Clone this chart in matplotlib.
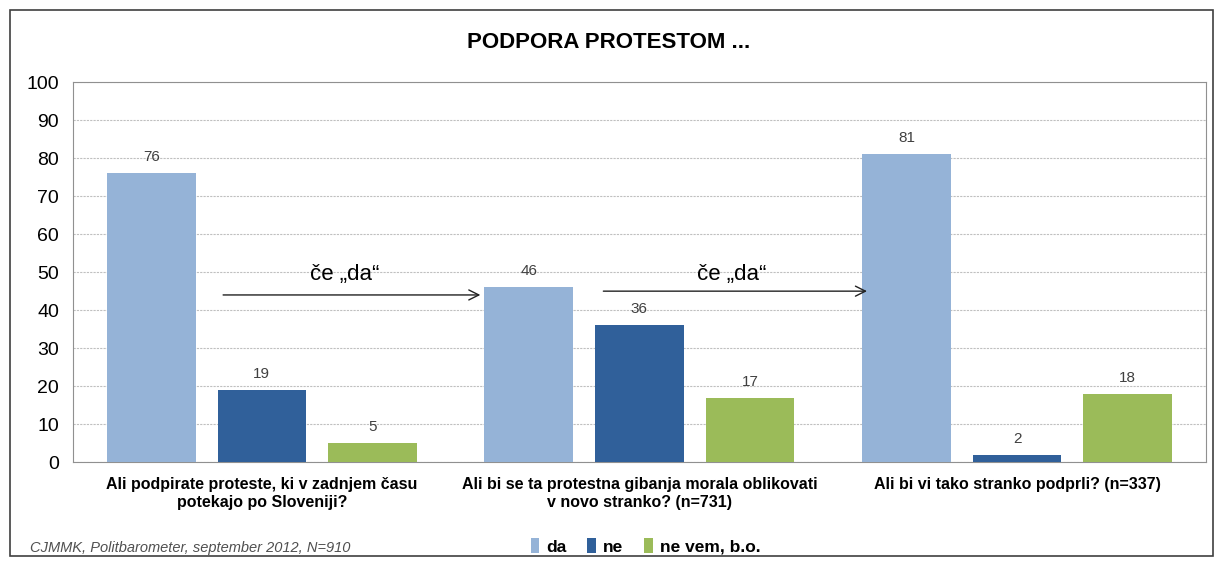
import numpy as np
import matplotlib.pyplot as plt
from matplotlib.patches import Rectangle

plt.rcParams['font.family'] = ['Liberation Sans', 'DejaVu Sans']

# data
questions = ['Ali podpirate proteste, ki v zadnjem času\npotekajo po Sloveniji?',
             'Ali bi se ta protestna gibanja morala oblikovati\nv novo stranko? (n=731)',
             'Ali bi vi tako stranko podprli? (n=337)']
series = ['da', 'ne', 'ne vem, b.o.']
da = [76, 46, 81]
ne = [19, 36, 2]
nevem = [5, 17, 18]
yticks = list(range(0, 101, 10))

colors = ['#95b3d7', '#30609a', '#9bbb59']

fig = plt.figure(figsize=(12.18, 5.67), dpi=100)
fig.patches.append(Rectangle((0.008, 0.02), 0.988, 0.963, transform=fig.transFigure,
                             fill=False, edgecolor='#404040', lw=1.2))
ax = fig.add_axes([0.060, 0.185, 0.930, 0.670])

x = np.arange(len(questions))
w = 0.235
off = 0.293
for i, (vals, c, name) in enumerate(zip([da, ne, nevem], colors, series)):
    xs = x + (i - 1) * off
    ax.bar(xs, vals, width=w, color=c, label=name, zorder=3)
    for xi, v in zip(xs, vals):
        ax.text(xi, v + 4.2, str(v), ha='center', va='center', fontsize=11, color='#404040')

ax.set_xlim(-0.5, 2.5)
ax.set_ylim(0, 100)
ax.set_yticks(yticks)
ax.tick_params(axis='y', labelsize=14, length=0, pad=10)
ax.set_xticks(x)
ax.set_xticklabels(questions, fontsize=11.5, fontweight='bold')
ax.tick_params(axis='x', length=0, pad=11)
ax.yaxis.grid(True, linestyle=(0, (2, 1)), color='#c0c0c0', lw=0.8, zorder=0)
for s in ax.spines.values():
    s.set_color('#909090')

# arrows "če da"
ax.annotate('', xy=(0.586, 44), xytext=(-0.11, 44),
            arrowprops=dict(arrowstyle='->', color='#222222', lw=1, mutation_scale=18))
ax.annotate('', xy=(1.61, 45), xytext=(0.897, 45),
            arrowprops=dict(arrowstyle='->', color='#222222', lw=1, mutation_scale=18))
ax.text(0.22, 49.5, 'če „da“', ha='center', va='center', fontsize=16)
ax.text(1.245, 49.5, 'če „da“', ha='center', va='center', fontsize=16)

fig.text(0.5, 0.925, 'PODPORA PROTESTOM ...', ha='center', va='center',
         fontsize=16, fontweight='bold')
fig.text(0.025, 0.033, 'CJMMK, Politbarometer, september 2012, N=910', fontsize=10.5,
         style='italic', color='#505050', va='center')
leg = fig.legend(loc='center', bbox_to_anchor=(0.53, 0.036), ncol=3, frameon=False,
                 fontsize=12.5, handlelength=0.5, handleheight=0.9, handletextpad=0.4,
                 columnspacing=1.2)
for t in leg.get_texts():
    t.set_fontweight('bold')

fig.savefig('out.png', dpi=100)
